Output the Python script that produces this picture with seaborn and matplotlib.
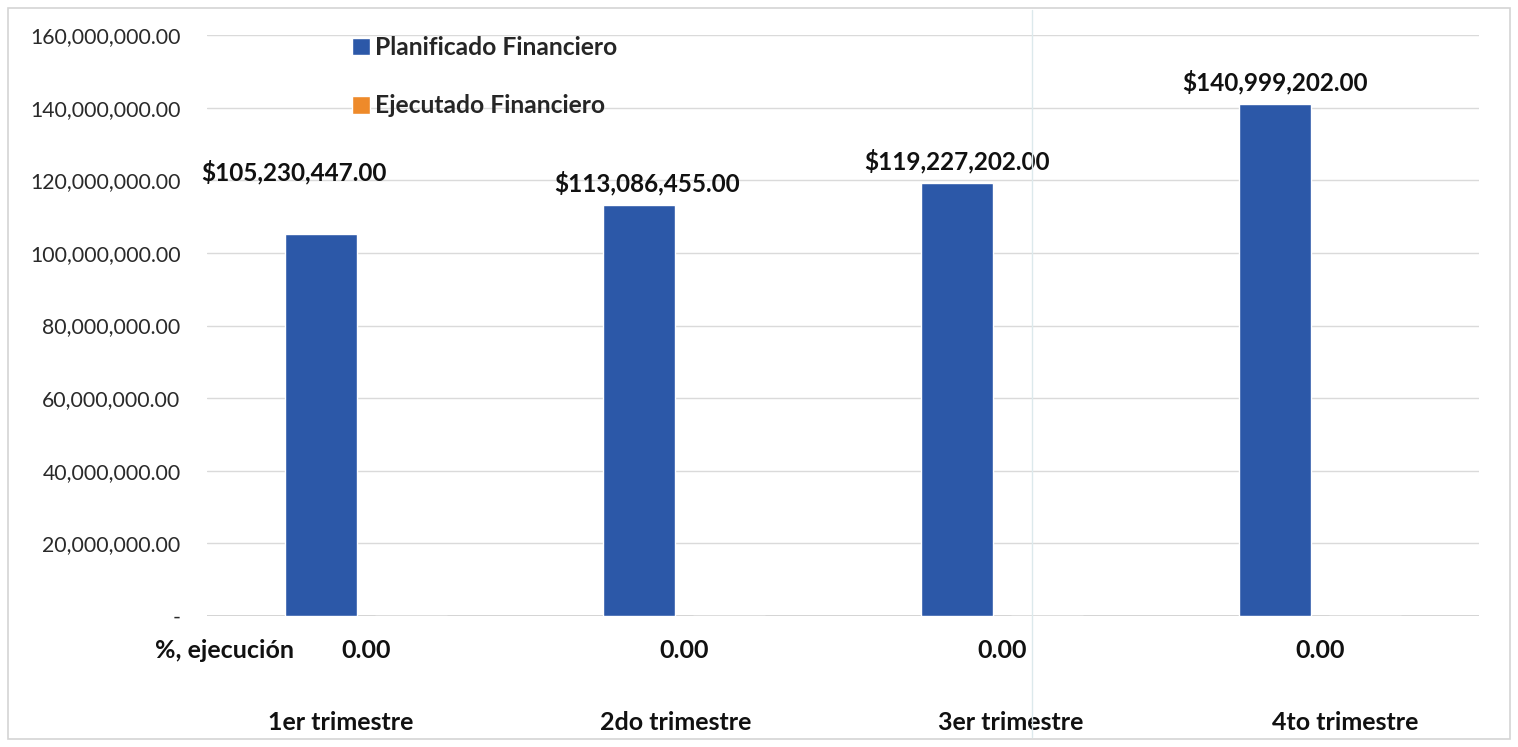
import pandas as pd
import matplotlib.pyplot as plt
import seaborn as sns
from matplotlib.lines import Line2D
from matplotlib.patches import Patch, Rectangle
from matplotlib.ticker import FuncFormatter

# ==============================================
# Data
# ==============================================
trimestres = ["1er trimestre", "2do trimestre", "3er trimestre", "4to trimestre"]
planificado = [105230447.00, 113086455.00, 119227202.00, 140999202.00]
ejecutado = [0.0, 0.0, 0.0, 0.0]
pct_ejecucion = [0.00, 0.00, 0.00, 0.00]
series = ["Planificado Financiero", "Ejecutado Financiero"]
y_ticks = [0, 20e6, 40e6, 60e6, 80e6, 100e6, 120e6, 140e6, 160e6]

BLUE = "#2C58A8"
ORANGE = "#EE8A2A"

df = pd.DataFrame({
    "trimestre": trimestres * 2,
    "serie": [series[0]] * 4 + [series[1]] * 4,
    "monto": planificado + ejecutado,
})

sns.set_theme(style="white")
plt.rcParams["font.family"] = ["Lato", "DejaVu Sans"]

W, H = 1518, 747
fig = plt.figure(figsize=(W / 100, H / 100), dpi=100)
ax = fig.add_axes([207 / W, (H - 616) / H, (1479 - 207) / W, 581 / H])

width = 0.566
sns.barplot(data=df, x="trimestre", y="monto", hue="serie",
            palette=[BLUE, ORANGE], width=width, gap=0.21,
            saturation=1, legend=False, ax=ax)

ax.set_xlim(-0.5, len(trimestres) - 0.5)
ax.set_ylim(0, 160e6)
ax.set_yticks(y_ticks)
ax.yaxis.set_major_formatter(FuncFormatter(lambda v, _: "-" if v == 0 else f"{v:,.2f}"))
ax.tick_params(axis="y", length=0, pad=19, labelsize=15.3, labelcolor="#2a2a2a")
ax.set_xticks([])
ax.set_xlabel("")
ax.set_ylabel("")
ax.grid(axis="y", color="#dadada", linewidth=1)
ax.set_axisbelow(True)
for s in ax.spines.values():
    s.set_visible(False)
ax.axhline(0, color="#cccccc", linewidth=1.2, zorder=0)

offset = width / 4
# value labels over the planned bars (first label was moved higher in the original)
label_dy = [62, 22, 22, 22]
label_dx = [-27, 8, 0, 0]
for i, v in enumerate(planificado):
    ax.annotate(f"${v:,.2f}", (i - offset, v),
                xytext=(label_dx[i] * 0.72, label_dy[i] * 0.72),
                textcoords="offset points", ha="center", va="center",
                fontsize=17.5, fontweight="bold", color="#111111")

# execution % row and category labels under the axis
xt = ax.get_xaxis_transform()
cat_x = [-0.08, 0.973, 2.027, 3.08]
for i, p in enumerate(pct_ejecucion):
    ax.text(i, -34 / 581, f"{p:.2f}", transform=xt, ha="center", va="center",
            fontsize=18, fontweight="bold", color="#111111")
    ax.text(cat_x[i], -106 / 581, trimestres[i], transform=xt, ha="center",
            va="center", fontsize=18, fontweight="bold", color="#111111")
fig.text(294 / W, 1 - 650 / H, "%, ejecución", ha="right", va="center",
         fontsize=18, fontweight="bold", color="#111111")

handles = [Patch(facecolor=BLUE), Patch(facecolor=ORANGE)]
ax.legend(handles, series, loc="upper left", bbox_to_anchor=(330 / W, 1 - 14 / H),
          bbox_transform=fig.transFigure, frameon=False, handlelength=0.74,
          handleheight=0.74, handletextpad=0.2, labelspacing=1.43,
          prop={"size": 17.7, "weight": "bold"})

# faint scan line and light chart border, as on the source page
fig.add_artist(Line2D([1032 / W, 1032 / W], [10 / H, 1 - 10 / H], color="#dce9ec", linewidth=1))
fig.patches.append(Rectangle((8 / W, 8 / H), 1 - 16 / W, 1 - 16 / H, transform=fig.transFigure,
                             fill=False, edgecolor="#d4d4d4", linewidth=1.2))

fig.savefig("out.png", dpi=100, facecolor="white")
